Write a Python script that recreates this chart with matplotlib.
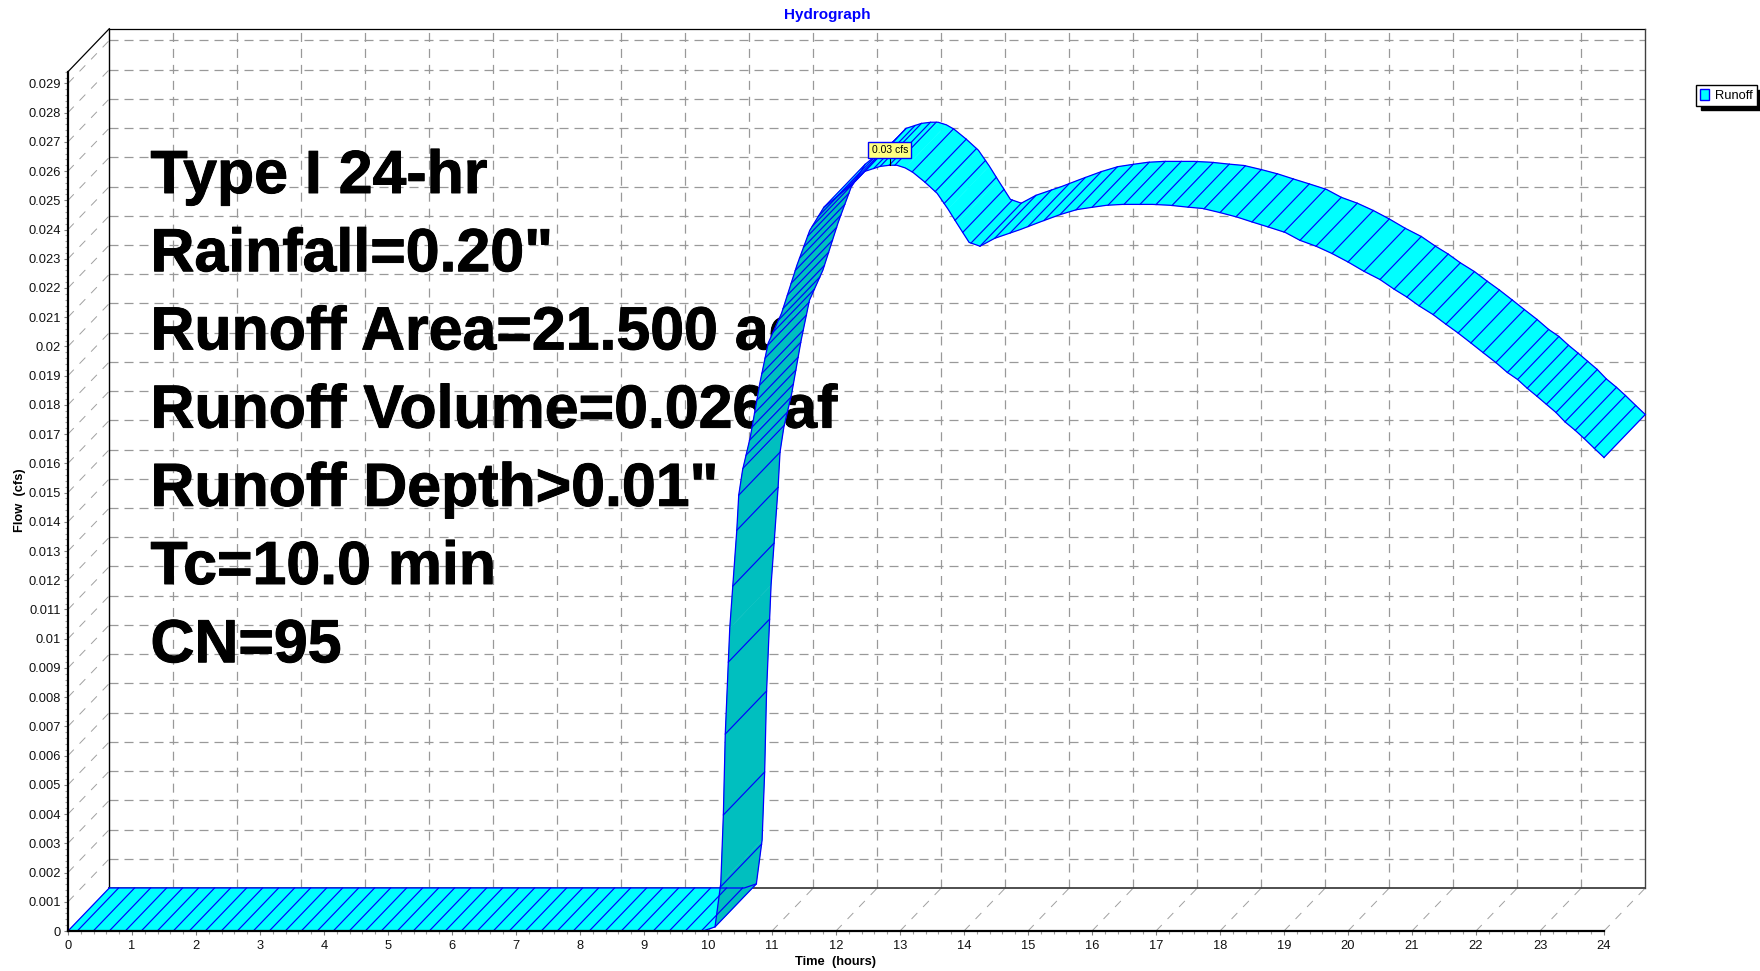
#!/usr/bin/env python3
import numpy as np
import matplotlib
matplotlib.use('Agg')
import matplotlib.pyplot as plt
import matplotlib.patheffects as pe
from matplotlib.patches import Patch, Polygon
from matplotlib.ticker import MultipleLocator

# Hydrograph (front edge of the ribbon)
hours = [0, 9.92, 10.11, 10.20, 10.24, 10.27, 10.34, 10.45, 10.48, 10.54, 10.66,
         10.81, 10.94, 11.15, 11.39, 11.59, 11.81, 12.27, 12.45, 12.69, 12.84, 12.95,
         13.08, 13.20, 13.39, 13.58, 13.75, 13.89, 14.08, 14.25, 14.48, 14.88, 15.19,
         15.5, 15.76, 16.0, 16.23, 16.48, 16.95, 17.22, 17.48, 17.73, 18.0, 18.26,
         18.5, 18.75, 19.02, 19.25, 19.5, 19.75, 20.0, 20.25, 20.5, 20.72, 20.92,
         21.11, 21.33, 21.53, 21.72, 21.92, 22.11, 22.31, 22.49, 22.65, 22.8, 22.95,
         23.1, 23.25, 23.39, 23.55, 23.69, 23.85, 24.0]
flow = [0, 0, .00014, .00164, .00397, .00674, .01036, .01371, .01491, .01577, .01689,
        .01874, .02011, .02114, .02278, .02397, .02476, .02558, .02599, .02616, .02620, .02620,
        .02611, .02596, .02562, .02524, .02470, .02421, .02356, .02343, .02370, .0240, .02426,
        .02451, .02468, .02476, .02483, .02486, .02486, .02483, .02477, .02472, .02458, .02443,
        .02426, .02409, .02390, .02363, .02343, .02318, .02289, .02257, .02229, .02196, .02169,
        .02139, .02109, .02076, .02046, .02012, .01979, .01945, .01911, .01887, .01857, .01830,
        .01802, .01774, .01742, .01713, .01685, .01651, .0162]

# Flow levels of the hatch lines on the steep rise
hatch_rise_flow = [.0015, .00397, .00674, .0092, .0118, .01371, .01491, .01583, .01628,
                   .01679, .01724, .01772, .01816, .01867, .01908, .0196, .02004, .02049,
                   .0209, .0213, .02175, .02216, .0226, .02302, .02339, .02377, .02411,
                   .02445, .02476]
# Hours of the hatch lines after the rise
hatch_tail_hours = [12.0, 12.15, 12.3, 12.45, 12.59, 12.69, 12.83, 12.92, 13.19, 13.39, 13.55,
                    13.69, 13.86, 13.98, 14.11, 14.25, 14.48, 14.72, 15.0, 15.25, 15.5, 15.75,
                    16.0, 16.25, 16.5, 16.75, 17.0, 17.25, 17.5, 17.75, 18.0, 18.25, 18.5,
                    18.75, 19.0, 19.25, 19.5, 19.75, 20.0, 20.25, 20.5, 20.72, 20.92, 21.11,
                    21.33, 21.53, 21.72, 21.92, 22.11, 22.31, 22.49, 22.65, 22.8, 22.95, 23.1,
                    23.25, 23.39, 23.55, 23.69, 23.85]

x_ticks = list(range(25))
y_ticks = [k / 1000 for k in range(30)]
x_labels = [str(v) for v in x_ticks]
y_labels = [f'{v:g}' for v in y_ticks]

notes = ['Type I 24-hr', 'Rainfall=0.20"', 'Runoff Area=21.500 ac',
         'Runoff Volume=0.026 af', 'Runoff Depth>0.01"', 'Tc=10.0 min', 'CN=95']

W, H = 1760, 971
CYAN = '#00FFFF'
DARK = '#00BFBF'
BLUE = '#0000FF'
GRID = '#999999'

plt.rcParams['font.family'] = ['Liberation Sans', 'DejaVu Sans']
plt.rcParams['lines.scale_dashes'] = False

# depth of the fake 3D box, in data units
DT = 41.3 / 64
DQ = 43 / 29228
YMAX = 0.0294
XMAX = 24
DASH = (0, (6.5, 4.3))

fig = plt.figure(figsize=(W / 100, H / 100), dpi=100)
ax = fig.add_axes([68 / W, 40 / H, 1536 / W, 859.3 / H])
ax.patch.set_alpha(0)
ax.set_xlim(0, XMAX)
ax.set_ylim(0, YMAX)


def depth_line(x0, y0, **kw):
    ax.plot([x0, x0 + DT], [y0, y0 + DQ], clip_on=False, **kw)


# back wall, side wall and floor grid
for q in y_ticks[1:]:
    ax.plot([DT, XMAX + DT], [q + DQ, q + DQ], color=GRID, lw=0.9, ls=DASH, clip_on=False, zorder=1)
    depth_line(0, q, color='#A0A0A0', lw=0.7, ls=(0, (6, 6)), zorder=1)
for t in x_ticks[1:-1]:
    ax.plot([t + DT, t + DT], [DQ, YMAX + DQ], color=GRID, lw=0.9, ls=(0, (6.5, 5)), clip_on=False, zorder=1)
for t in x_ticks[1:]:
    depth_line(t, 0, color='#A0A0A0', lw=0.7, ls=(0, (6, 6)), zorder=1)

# box edges
ax.plot([DT, XMAX + DT], [DQ, DQ], color='#404040', lw=1.3, clip_on=False, zorder=1.5)
ax.plot([DT, DT], [DQ, YMAX + DQ], color='black', lw=1.0, clip_on=False, zorder=1.5)
ax.plot([DT, XMAX + DT], [YMAX + DQ, YMAX + DQ], color='black', lw=0.9, clip_on=False, zorder=1.5)
ax.plot([XMAX + DT, XMAX + DT], [DQ, YMAX + DQ], color='#404040', lw=1.0, clip_on=False, zorder=1.5)
depth_line(0, YMAX, color='black', lw=0.9, zorder=1.5)

# big note block sits under the ribbon
for i, line in enumerate(notes):
    ax.text(150.5 / W, 1 - (193 + 78.2 * i) / H, line, transform=fig.transFigure, fontsize=43.8,
            fontweight='bold', color='black', va='baseline', ha='left', clip_on=False, zorder=2,
            path_effects=[pe.withStroke(linewidth=0.7, foreground='black')])

# ribbon, one quad per segment
t = np.array(hours)
q = np.array(flow)
for i in range(len(t) - 1):
    slope = (q[i + 1] - q[i]) / (t[i + 1] - t[i])
    color = DARK if slope > DQ / DT else CYAN
    quad = [(t[i], q[i]), (t[i + 1], q[i + 1]), (t[i + 1] + DT, q[i + 1] + DQ), (t[i] + DT, q[i] + DQ)]
    ax.add_patch(Polygon(quad, closed=True, facecolor=color, edgecolor=color, lw=0.3,
                         clip_on=False, zorder=3))

# hatch lines along the depth direction
hatch_t = list(np.arange(0.145, 10, 0.25))
rise = (t >= 10.11) & (t <= 11.81)
hatch_t += list(np.interp(hatch_rise_flow, q[rise], t[rise]))
hatch_t += hatch_tail_hours
for h in hatch_t:
    depth_line(h, np.interp(h, t, q), color=BLUE, lw=0.85, zorder=4)

# ribbon outline
ax.plot(t, q, color=BLUE, lw=0.9, clip_on=False, zorder=5)
ax.plot(t + DT, q + DQ, color=BLUE, lw=0.9, clip_on=False, zorder=5)
depth_line(t[-1], q[-1], color=BLUE, lw=0.9, zorder=5)
depth_line(t[0], q[0], color=BLUE, lw=0.9, zorder=5)
depth_line(t[2], q[2], color=BLUE, lw=0.9, zorder=5)

# axes
for side in ['top', 'right']:
    ax.spines[side].set_visible(False)
for side in ['left', 'bottom']:
    ax.spines[side].set_linewidth(1.6)
    ax.spines[side].set_color('black')
    ax.spines[side].set_zorder(6)
ax.set_xticks(x_ticks, x_labels)
ax.set_yticks(y_ticks, y_labels)
ax.xaxis.set_minor_locator(MultipleLocator(0.2))
ax.yaxis.set_minor_locator(MultipleLocator(0.0002))
ax.tick_params(axis='x', which='major', pad=3.2)
ax.tick_params(axis='y', which='major', pad=2)
ax.tick_params(axis='both', which='major', labelsize=9.3, length=3.2, width=0.8, color='#808080',
               labelcolor='#111111')
ax.tick_params(axis='both', which='minor', length=2.2, width=0.8, color='#A0A0A0')

fig.text(835 / W, 1 - 962 / H, 'Time  (hours)', fontsize=9.3, fontweight='bold', ha='center', va='center')
fig.text(20 / W, 1 - 500.5 / H, 'Flow  (cfs)', fontsize=9.3, fontweight='bold', rotation=90,
         ha='center', va='center')
fig.text(827 / W, 1 - 15 / H, 'Hydrograph', fontsize=11, fontweight='bold', color=BLUE,
         ha='center', va='center')

# peak callout
peak = int(np.argmax(q))
ax.annotate('0.03 cfs', xy=(t[peak], q[peak]), xytext=(0, 15), textcoords='offset pixels',
            fontsize=7.5, ha='center', va='center', zorder=8, annotation_clip=False,
            bbox=dict(boxstyle='square,pad=0.3', facecolor='#FFFF80', edgecolor=BLUE, lw=1.0))
ax.plot([t[peak], t[peak]], [q[peak], q[peak] + 9 / 29228], color='black', lw=0.8, clip_on=False, zorder=7)

# legend with the hard black shadow
handle = Patch(facecolor=CYAN, edgecolor=BLUE, lw=1.0, label='Runoff')
fig.legend(handles=[handle], loc='upper left', bbox_to_anchor=(1696 / W, 1 - 85 / H),
           borderaxespad=0, fontsize=9.3, fancybox=False, framealpha=1, edgecolor='black',
           borderpad=0.3, handlelength=0.7, handleheight=0.9, handletextpad=0.5,
           shadow={'ox': 3.5, 'oy': -3.5, 'color': 'black', 'alpha': 1})

fig.savefig('out.png', dpi=100)
